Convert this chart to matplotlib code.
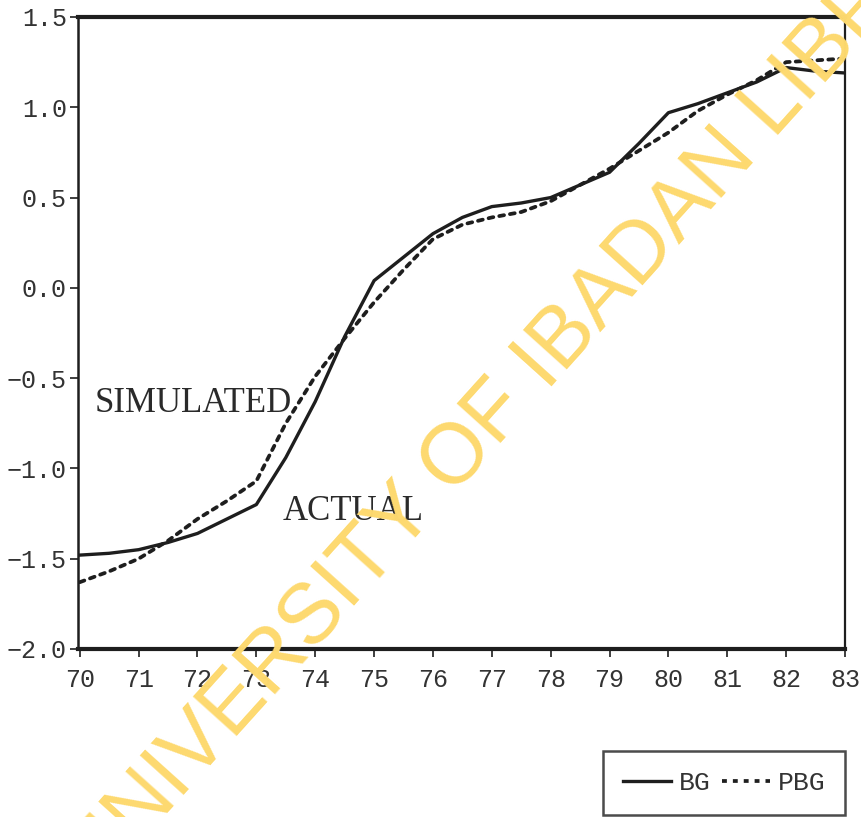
import matplotlib
matplotlib.use("Agg")
import matplotlib.pyplot as plt
from matplotlib.lines import Line2D

# half-year observations, 1970-1983
years = [70, 70.5, 71, 71.5, 72, 72.5, 73, 73.5, 74, 74.5, 75, 75.5, 76, 76.5,
         77, 77.5, 78, 78.5, 79, 79.5, 80, 80.5, 81, 81.5, 82, 82.5, 83]
bg = [-1.48, -1.47, -1.45, -1.41, -1.36, -1.28, -1.20, -0.94, -0.63, -0.27,
      0.04, 0.17, 0.30, 0.39, 0.45, 0.47, 0.50, 0.57, 0.64, 0.80, 0.97, 1.02,
      1.08, 1.14, 1.22, 1.20, 1.19]
pbg = [-1.63, -1.57, -1.50, -1.40, -1.28, -1.18, -1.07, -0.75, -0.49, -0.28,
       -0.08, 0.10, 0.27, 0.35, 0.39, 0.42, 0.48, 0.57, 0.66, 0.76, 0.86, 0.98,
       1.07, 1.15, 1.25, 1.26, 1.27]

x_ticks = list(range(70, 84))
x_labels = [str(t) for t in x_ticks]
y_ticks = [1.5, 1.0, 0.5, 0.0, -0.5, -1.0, -1.5, -2.0]
y_labels = ["1.5", "1.0", "0.5", "0.0", "\u22120.5", "\u22121.0", "\u22121.5", "\u22122.0"]

TICK_FONT = "Liberation Mono"
LABEL_FONT = "Liberation Serif"
INK = "#1e1e1e"

fig = plt.figure(figsize=(8.62, 8.17), dpi=100)
ax = fig.add_axes([78 / 862, 168 / 817, 767 / 862, 632 / 817])

ax.plot(years, bg, color=INK, lw=2.4, solid_joinstyle="round", label="BG")
ax.plot(years, pbg, color=INK, lw=2.7, linestyle=(0, (1.3, 1.6)),
        dash_capstyle="round", label="PBG")

ax.set_xlim(69.97, 83)
ax.set_ylim(-2.0, 1.5)
ax.set_xticks(x_ticks)
ax.set_xticklabels(x_labels, family=TICK_FONT, fontsize=18, color="#333333")
ax.set_yticks(y_ticks)
ax.set_yticklabels(y_labels, family=TICK_FONT, fontsize=18, color="#333333")
ax.tick_params(axis="both", direction="out", length=6, width=1.2, color=INK)
ax.tick_params(axis="x", pad=8)
ax.tick_params(axis="y", pad=2)

for side, w in [("top", 3.0), ("bottom", 3.0), ("left", 1.8), ("right", 1.6)]:
    ax.spines[side].set_linewidth(w)
    ax.spines[side].set_color(INK)

ax.text(70.26, -0.69, "SIMULATED", family=LABEL_FONT, fontsize=25,
        color="#2a2a2a", ha="left", va="baseline")
ax.text(73.45, -1.285, "ACTUAL", family=LABEL_FONT, fontsize=25,
        color="#2a2a2a", ha="left", va="baseline")

handles = [Line2D([], [], color=INK, lw=2.4),
           Line2D([], [], color=INK, lw=2.7, linestyle=(0, (1.3, 1.6)))]
leg = fig.legend(handles, ["BG", "PBG"], loc="lower right",
                 bbox_to_anchor=(845 / 862, 2 / 817), borderaxespad=0,
                 ncol=2, frameon=True, fancybox=False, edgecolor=INK,
                 handlelength=1.8, handletextpad=0.3, columnspacing=0.45,
                 borderpad=0.75, prop={"family": TICK_FONT, "size": 19})
leg.get_frame().set_linewidth(1.8)
for t in leg.get_texts():
    t.set_color("#333333")

# library stamp across the page
fig.text(540 / 862, 1 - 366 / 817, "UNIVERSITY OF IBADAN LIBRARY",
         family="Liberation Sans", fontsize=61, color="#FDD96F",
         rotation=48, rotation_mode="anchor", ha="center", va="center",
         zorder=10)

fig.savefig("out.png", dpi=100)
